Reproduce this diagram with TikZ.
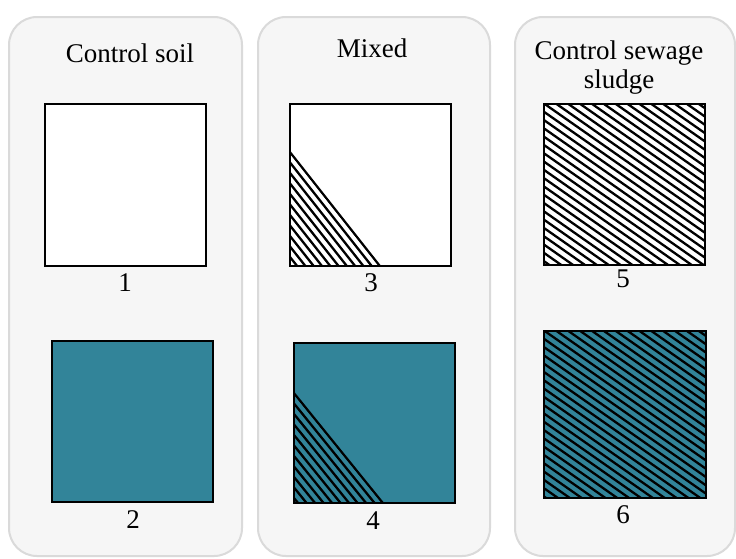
\documentclass[tikz,border=0pt]{standalone}
\usepackage{fontspec}
\setmainfont{Liberation Serif}
\definecolor{tealfill}{RGB}{50,132,153}
\definecolor{panelfill}{RGB}{246,246,246}
\definecolor{panelline}{RGB}{218,218,218}
\begin{document}
\begin{tikzpicture}[x=1pt,y=-1pt,
  panel/.style={draw=panelline, line width=2pt, fill=panelfill, rounded corners=28pt},
  box/.style={draw=black, line width=2pt},
  hatch/.style={draw=black, line width=2.3pt},
  txt/.style={font=\fontsize{27}{29}\selectfont, inner sep=0pt, anchor=base}]
\useasboundingbox (0,0) rectangle (736,558);
\fill[white] (0,0) rectangle (736,558);
% panels
\draw[panel] (9,17) rectangle (242,556);
\draw[panel] (258,17) rectangle (490,556);
\draw[panel] (515,17) rectangle (735,556);
% titles
\node[txt] (t1) at (130,62) {Control soil};
\node[txt] (t2) at (372,57) {Mixed};
\node[txt] (t3a) at (619,59) {Control sewage};
\node[txt] (t3b) at (619,88) {sludge};
% box 1
\draw[box, fill=white] (45,104) rectangle (206,266);
% box 2
\draw[box, fill=tealfill] (52,341) rectangle (213,502);
% box 3
\fill[white] (290,104) rectangle (451,266);
\begin{scope}
  \clip (290,152) -- (290,266) -- (380,266) -- cycle;
  \foreach \c in {0,10.5,...,120}
    \draw[hatch] (280,{152+\c-12.67}) -- (400,{152+\c+139.4});
\end{scope}
\draw[hatch, line width=2pt] (290,152) -- (380,266);
\draw[box] (290,104) rectangle (451,266);
% box 4
\fill[tealfill] (294,343) rectangle (455,503);
\begin{scope}
  \clip (294,393) -- (294,503) -- (383,503) -- cycle;
  \foreach \c in {0,10.5,...,115}
    \draw[hatch] (284,{393+\c-12.36}) -- (404,{393+\c+135.9});
\end{scope}
\draw[hatch, line width=2pt] (294,393) -- (383,503);
\draw[box] (294,343) rectangle (455,503);
% box 5
\fill[white] (544,104) rectangle (705,265);
\begin{scope}
  \clip (544,104) rectangle (705,265);
  \foreach \c in {-125,-116.7,...,170}
    \draw[hatch] (534,{104+\c-7}) -- (715,{104+\c+119.7});
\end{scope}
\draw[box] (544,104) rectangle (705,265);
% box 6
\fill[tealfill] (544,331) rectangle (706,498);
\begin{scope}
  \clip (544,331) rectangle (706,498);
  \foreach \c in {-125,-116.7,...,175}
    \draw[hatch] (534,{331+\c-7}) -- (716,{331+\c+120.4});
\end{scope}
\draw[box] (544,331) rectangle (706,498);
% labels
\node[txt] (n1) at (125,291) {1};
\node[txt] (n2) at (133,528) {2};
\node[txt] (n3) at (371,291) {3};
\node[txt] (n4) at (373,529) {4};
\node[txt] (n5) at (623,287) {5};
\node[txt] (n6) at (623,523) {6};
\end{tikzpicture}
\end{document}
